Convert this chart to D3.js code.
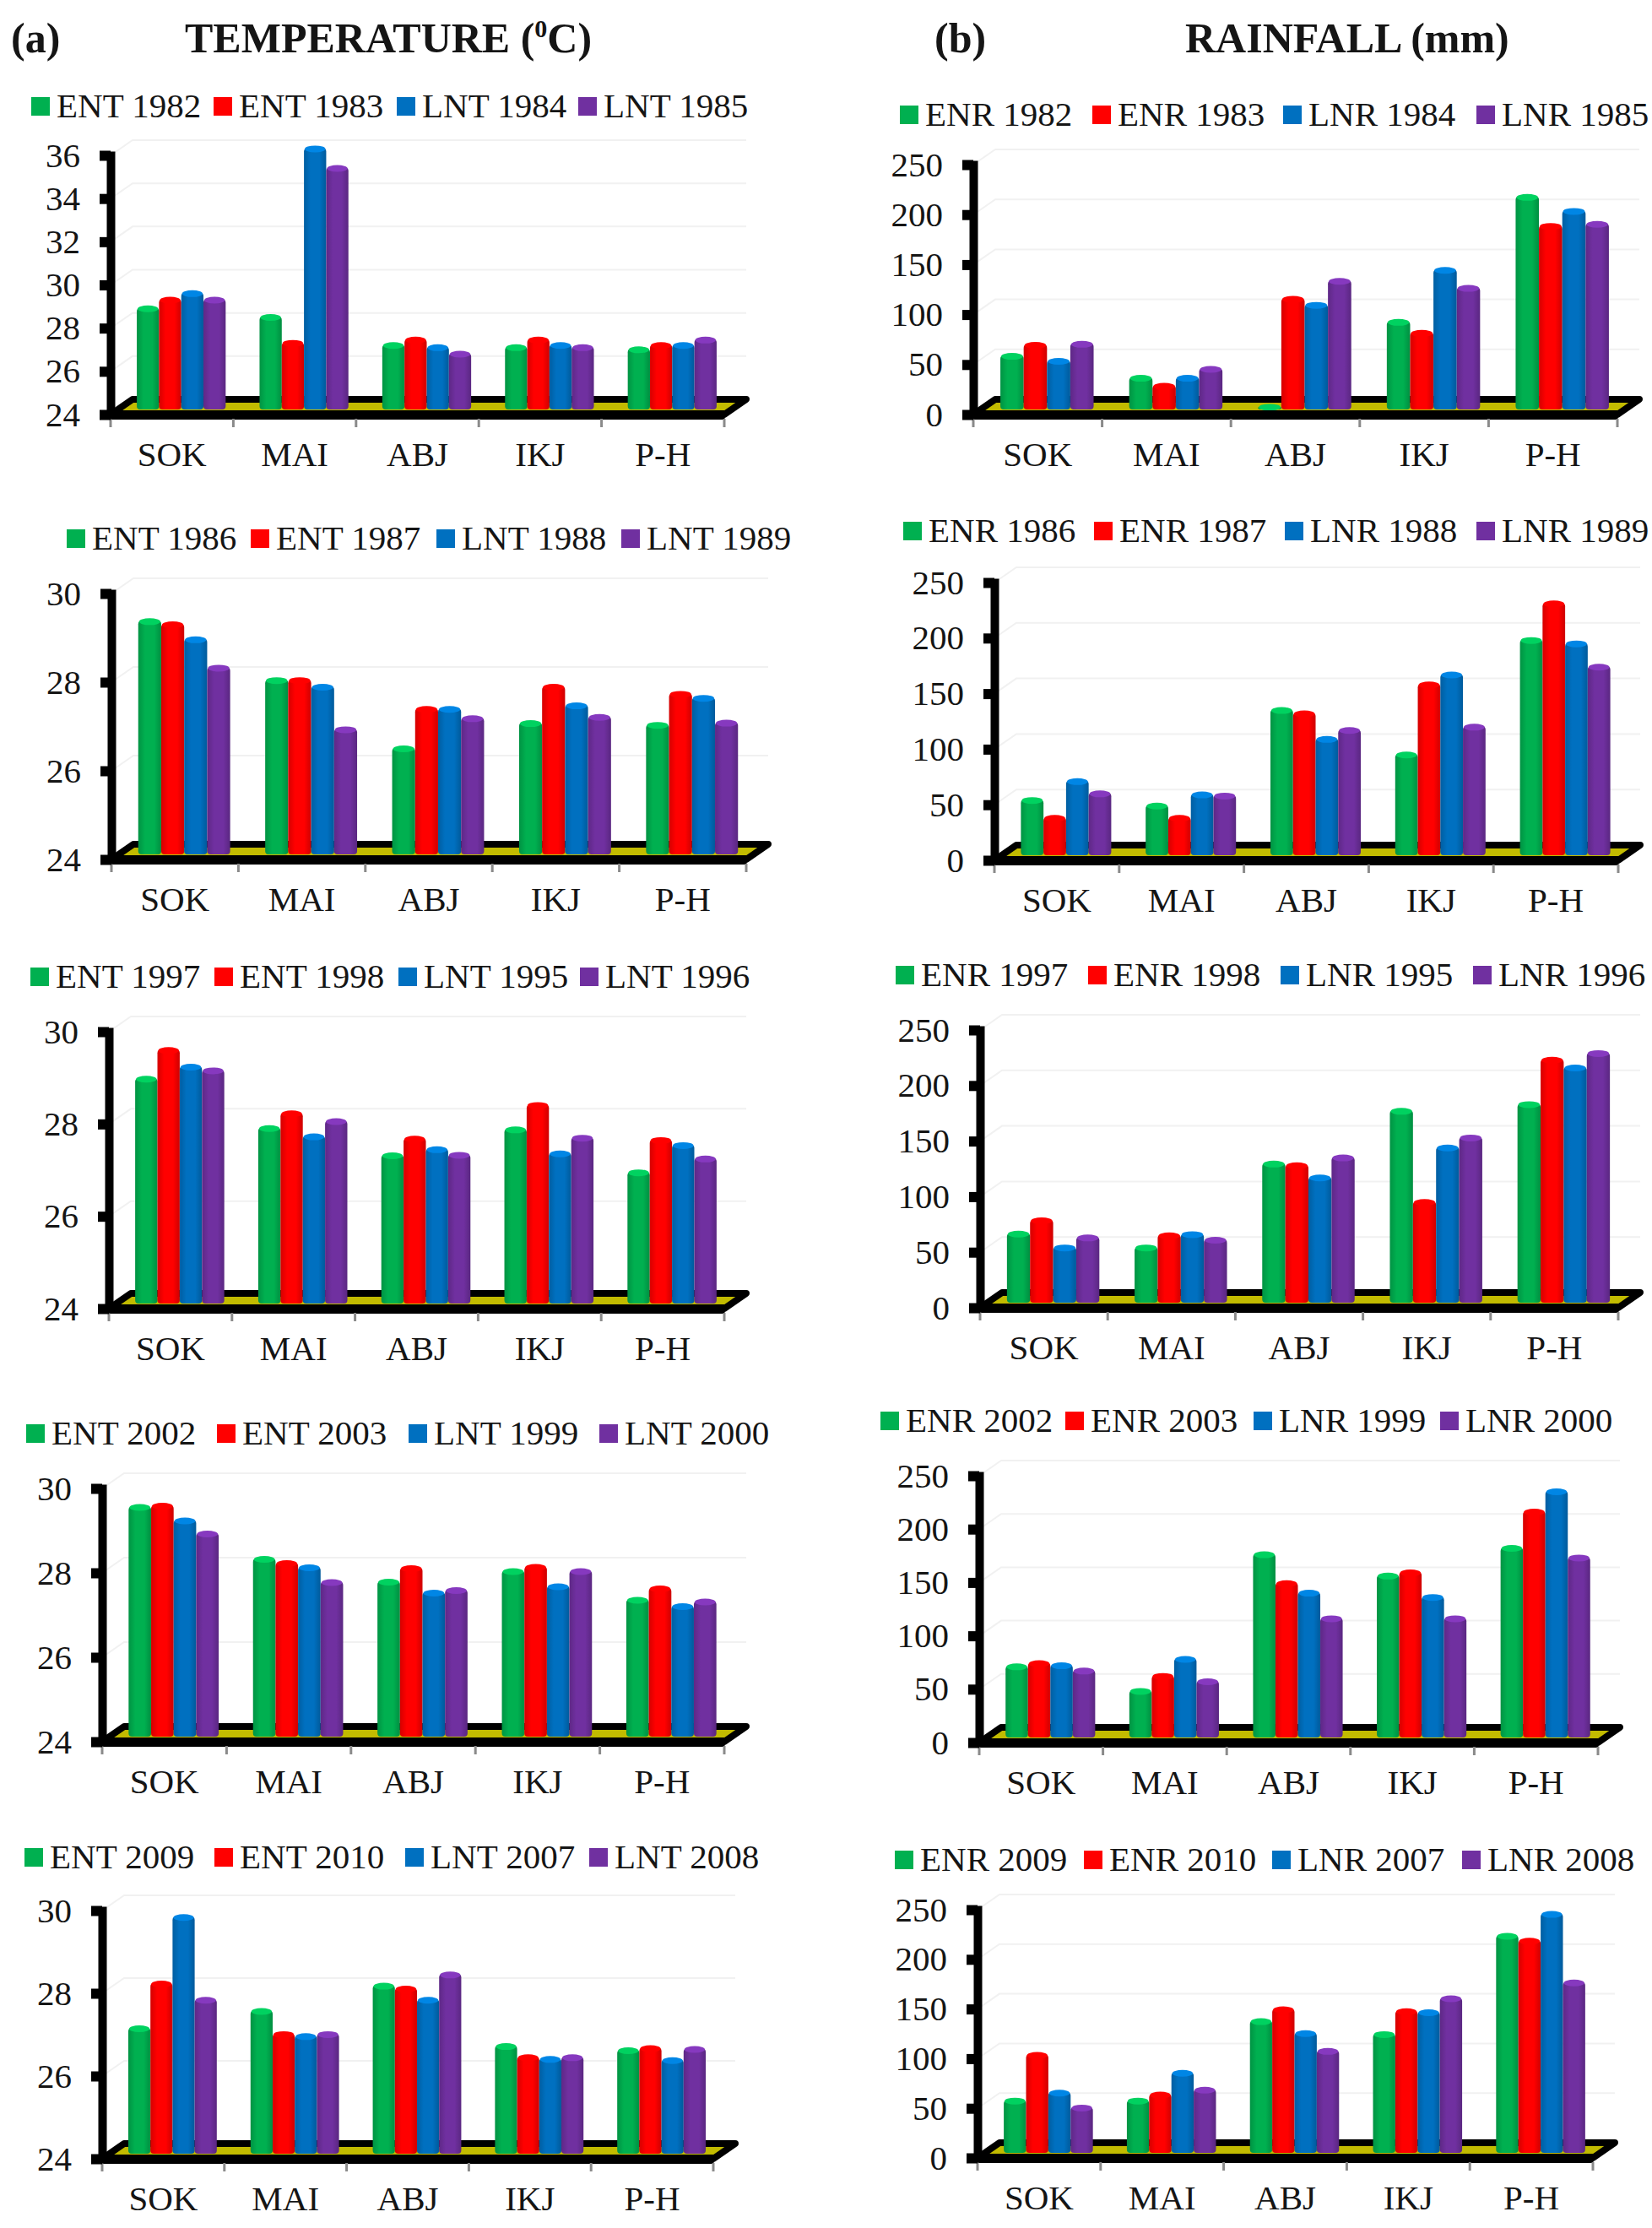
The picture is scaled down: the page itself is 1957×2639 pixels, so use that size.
<!DOCTYPE html>
<html>
<head>
<meta charset="utf-8">
<script src="https://d3js.org/d3.v7.min.js"></script>
<style>
	html, body { margin: 0; background: #fff; }
	text { font-family: "Liberation Serif", serif; fill: #151515; }
	.axis text { font-size: 41px; }
	.legend text { font-size: 41px; }
	.head { font-size: 50px; font-weight: bold; }
</style>
</head>
<body>
<svg width="1957" height="2639"></svg>
<script>
var categories = ["SOK", "MAI", "ABJ", "IKJ", "P-H"];
var seriesColors = ["#00B050", "#FF0000", "#0070C0", "#7030A0"];
var tempRange1 = [24, 26, 28, 30, 32, 34, 36];
var tempRange2 = [24, 26, 28, 30];
var rainRange = [0, 50, 100, 150, 200, 250];

// temperature panels, one row per station
var t1Labels = ["ENT 1982", "ENT 1983", "LNT 1984", "LNT 1985"];
var t1Values = [[28.7, 29.1, 29.4, 29.1], [28.3, 27.1, 36.1, 35.2], [27.0, 27.25, 26.9, 26.6], [26.9, 27.25, 27.0, 26.9], [26.8, 27.0, 27.0, 27.25]];
var t2Labels = ["ENT 1986", "ENT 1987", "LNT 1988", "LNT 1989"];
var t2Values = [[29.27, 29.2, 28.86, 28.22], [27.94, 27.94, 27.79, 26.83], [26.4, 27.29, 27.29, 27.08], [26.97, 27.79, 27.37, 27.11], [26.93, 27.63, 27.54, 26.98]];
var t3Labels = ["ENT 1997", "ENT 1998", "LNT 1995", "LNT 1996"];
var t3Values = [[28.88, 29.5, 29.14, 29.06], [27.81, 28.13, 27.63, 27.96], [27.22, 27.58, 27.35, 27.23], [27.78, 28.31, 27.26, 27.6], [26.85, 27.55, 27.44, 27.15]];
var t4Labels = ["ENT 2002", "ENT 2003", "LNT 1999", "LNT 2000"];
var t4Values = [[29.45, 29.48, 29.13, 28.82], [28.22, 28.12, 28.02, 27.67], [27.68, 28.0, 27.42, 27.48], [27.93, 28.03, 27.57, 27.93], [27.25, 27.52, 27.1, 27.21]];
var t5Labels = ["ENT 2009", "ENT 2010", "LNT 2007", "LNT 2008"];
var t5Values = [[27.04, 28.12, 29.73, 27.73], [27.46, 26.9, 26.85, 26.9], [28.07, 28.0, 27.73, 28.34], [26.61, 26.34, 26.3, 26.34], [26.51, 26.56, 26.27, 26.54]];

// rainfall panels
var r1Labels = ["ENR 1982", "ENR 1983", "LNR 1984", "LNR 1985"];
var r1Values = [[54, 65, 49, 66], [32, 24, 32, 41], [3, 111, 105, 129], [88, 77, 140, 122], [213, 184, 199, 186]];
var r2Labels = ["ENR 1986", "ENR 1987", "LNR 1988", "LNR 1989"];
var r2Values = [[50, 34, 67, 56], [45, 34, 55, 54], [131, 128, 105, 113], [91, 154, 163, 116], [194, 227, 191, 170]];
var r3Labels = ["ENR 1997", "ENR 1998", "LNR 1995", "LNR 1996"];
var r3Values = [[62.5, 74.5, 50, 59], [50, 61, 62, 57], [125.5, 124, 113, 131], [173, 91, 140, 149], [179, 219, 212, 225]];
var r4Labels = ["ENR 2002", "ENR 2003", "LNR 1999", "LNR 2000"];
var r4Values = [[67, 70, 68, 63], [44, 58, 74, 53], [172, 145, 136, 112], [152, 155, 132, 112], [178, 212, 231, 169]];
var r5Labels = ["ENR 2009", "ENR 2010", "LNR 2007", "LNR 2008"];
var r5Values = [[53, 99, 61, 46], [53, 59, 81, 64], [133, 145, 121, 103], [120, 143, 142, 156], [219, 214, 241, 172]];

var svg = d3.select("svg");
var depthX = 26, depthY = 18;

var defs = svg.append("defs");
seriesColors.forEach(function(c, i) {
	var grad = defs.append("linearGradient").attr("id", "bar" + i);
	grad.append("stop").attr("offset", "0%").attr("stop-color", d3.color(c).darker(0.5));
	grad.append("stop").attr("offset", "30%").attr("stop-color", c);
	grad.append("stop").attr("offset", "70%").attr("stop-color", c);
	grad.append("stop").attr("offset", "100%").attr("stop-color", d3.color(c).darker(0.6));
});

function panel(opt) {
	var x = d3.scaleBand().domain(categories).range([opt.x0, opt.x1]);
	var y = d3.scaleLinear().domain(d3.extent(opt.ticks)).range([opt.y0, opt.yTop]);
	var g = svg.append("g");

	// back wall lines, nearly white
	g.selectAll(".grid").data(opt.ticks).enter().append("path")
		.attr("fill", "none").attr("stroke", "#f1f1f1").attr("stroke-width", 2)
		.attr("d", function(d) {
			return "M" + opt.x0 + "," + y(d) + "L" + (opt.x0 + depthX) + "," + (y(d) - depthY) + "H" + (opt.x1 + depthX);
		});

	// floor
	g.append("path")
		.attr("fill", "#c2bb00").attr("stroke", "#000").attr("stroke-width", 8).attr("stroke-linejoin", "round")
		.attr("d", "M" + opt.x0 + "," + opt.y0 + "L" + (opt.x0 + depthX) + "," + (opt.y0 - depthY)
			+ "H" + (opt.x1 + depthX) + "L" + opt.x1 + "," + opt.y0 + "Z");

	// bars
	var inner = d3.scaleBand().domain(d3.range(4)).range([0, x.step() * 0.724]);
	var shift = (x.step() - x.step() * 0.724) / 2 + 11;
	var groups = g.selectAll(".station").data(opt.values).enter().append("g")
		.attr("transform", function(d, i) { return "translate(" + (x(categories[i]) + shift) + "," + (-9) + ")"; });
	var bars = groups.selectAll("g").data(function(d) { return d; }).enter().append("g");
	bars.append("rect")
		.attr("x", function(d, i) { return inner(i); })
		.attr("width", inner.bandwidth())
		.attr("y", function(d) { return y(d) + 3; })
		.attr("height", function(d) { return opt.y0 - y(d); })
		.attr("rx", 4)
		.attr("fill", function(d, i) { return "url(#bar" + i + ")"; });
	bars.append("ellipse")
		.attr("cx", function(d, i) { return inner(i) + inner.bandwidth() / 2; })
		.attr("cy", function(d) { return y(d) + 4; })
		.attr("rx", inner.bandwidth() / 2 - 1)
		.attr("ry", 4)
		.attr("fill", function(d, i) { return d3.color(seriesColors[i]).brighter(0.5); });

	// front edge of the floor and value axis
	var xAxis = d3.axisBottom(x).tickSize(0).tickPadding(32);
	var xg = g.append("g").attr("class", "axis").attr("transform", "translate(0," + opt.y0 + ")").call(xAxis);
	xg.select(".domain").attr("stroke", "#000").attr("stroke-width", 11);
	xg.selectAll("text").attr("fill", "#151515");
	g.selectAll(".boundary").data(d3.range(6)).enter().append("line")
		.attr("x1", function(d) { return opt.x0 + d * x.step(); })
		.attr("x2", function(d) { return opt.x0 + d * x.step(); })
		.attr("y1", opt.y0 + 5).attr("y2", opt.y0 + 15)
		.attr("stroke", "#8a8a8a").attr("stroke-width", 3);

	var yAxis = d3.axisLeft(y).tickValues(opt.ticks).tickFormat(d3.format("d")).tickSizeOuter(0).tickSize(13).tickPadding(23);
	var yg = g.append("g").attr("class", "axis").attr("transform", "translate(" + opt.x0 + ",0)").call(yAxis);
	yg.select(".domain").attr("stroke", "#000").attr("stroke-width", 10);
	yg.selectAll(".tick line").attr("stroke", "#000").attr("stroke-width", 12);
	yg.selectAll("text").attr("fill", "#151515");

	// legend
	var leg = g.selectAll(".legend").data(opt.labels).enter().append("g")
		.attr("class", "legend")
		.attr("transform", function(d, i) { return "translate(" + opt.legendX[i] + "," + opt.legendY + ")"; });
	leg.append("rect").attr("x", 0).attr("y", -11).attr("width", 22).attr("height", 22)
		.attr("fill", function(d, i) { return seriesColors[i]; });
	leg.append("text").attr("x", 30).attr("y", 13).text(function(d) { return d; });
}

panel({ labels: t1Labels, values: t1Values, ticks: tempRange1, x0: 131, x1: 858, y0: 491, yTop: 184, legendX: [37, 253, 470, 685], legendY: 126 });
panel({ labels: t2Labels, values: t2Values, ticks: tempRange2, x0: 132, x1: 884, y0: 1018, yTop: 703, legendX: [79, 297, 517, 736], legendY: 638 });
panel({ labels: t3Labels, values: t3Values, ticks: tempRange2, x0: 129, x1: 858, y0: 1550, yTop: 1222, legendX: [36, 254, 472, 687], legendY: 1157 });
panel({ labels: t4Labels, values: t4Values, ticks: tempRange2, x0: 121, x1: 858, y0: 2063, yTop: 1763, legendX: [31, 257, 484, 710], legendY: 1698 });
panel({ labels: t5Labels, values: t5Values, ticks: tempRange2, x0: 121, x1: 845, y0: 2557, yTop: 2263, legendX: [29, 254, 480, 698], legendY: 2200 });

panel({ labels: r1Labels, values: r1Values, ticks: rainRange, x0: 1153, x1: 1916, y0: 491, yTop: 195, legendX: [1066, 1294, 1520, 1749], legendY: 136 });
panel({ labels: r2Labels, values: r2Values, ticks: rainRange, x0: 1178, x1: 1917, y0: 1019, yTop: 690, legendX: [1070, 1296, 1522, 1749], legendY: 629 });
panel({ labels: r3Labels, values: r3Values, ticks: rainRange, x0: 1161, x1: 1917, y0: 1549, yTop: 1220, legendX: [1061, 1289, 1517, 1745], legendY: 1155 });
panel({ labels: r4Labels, values: r4Values, ticks: rainRange, x0: 1160, x1: 1893, y0: 2064, yTop: 1748, legendX: [1043, 1262, 1485, 1706], legendY: 1683 });
panel({ labels: r5Labels, values: r5Values, ticks: rainRange, x0: 1158, x1: 1887, y0: 2556, yTop: 2262, legendX: [1060, 1284, 1507, 1732], legendY: 2203 });

// headings
svg.append("text").attr("class", "head").attr("x", 13).attr("y", 62).text("(a)");
var h1 = svg.append("text").attr("class", "head").attr("x", 219).attr("y", 62).text("TEMPERATURE (");
h1.append("tspan").attr("dy", -18).style("font-size", "30px").text("0");
h1.append("tspan").attr("dy", 18).text("C)");
svg.append("text").attr("class", "head").attr("x", 1107).attr("y", 62).text("(b)");
svg.append("text").attr("class", "head").attr("x", 1404).attr("y", 62).text("RAINFALL (mm)");
</script>
</body>
</html>
